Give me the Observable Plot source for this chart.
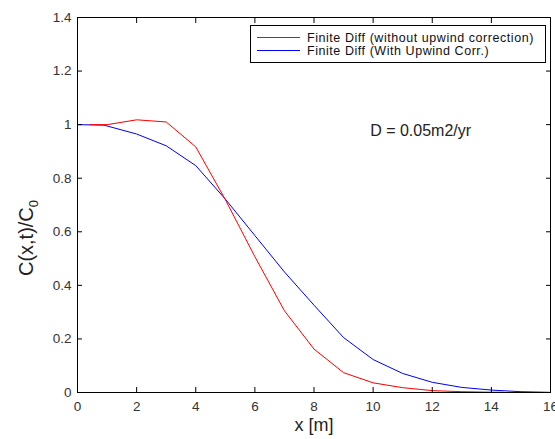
<!DOCTYPE html>
<html>
<head>
<meta charset="utf-8">
<script src="https://cdn.jsdelivr.net/npm/d3@7"></script>
<script src="https://cdn.jsdelivr.net/npm/@observablehq/plot@0.6"></script>
<style>
  body { margin: 0; background: #fff; }
  #wrap { position: relative; width: 555px; height: 439px; font-family: "Liberation Sans", Arial, sans-serif; }
  #legend { position: absolute; left: 250px; top: 25px; }
</style>
</head>
<body>
<div id="wrap"></div>
<script>
// Data
const redX  = [0.4, 1, 2, 3, 4, 5, 6, 7, 8, 9, 10, 11, 12, 13, 14, 14.4];
const redY  = [1.0, 1.0, 1.018, 1.010, 0.917, 0.72, 0.507, 0.305, 0.162, 0.074, 0.036, 0.018, 0.007, 0.003, 0.001, 0.001];
const blueX = [0, 0.9, 2, 3, 4, 5, 6, 7, 8, 9, 10, 11, 12, 13, 14, 15, 16];
const blueY = [1.0, 0.998, 0.965, 0.921, 0.847, 0.722, 0.586, 0.450, 0.326, 0.205, 0.123, 0.071, 0.038, 0.019, 0.009, 0.003, 0.0005];
const xTicks = [0, 2, 4, 6, 8, 10, 12, 14, 16];
const yTicks = [0, 0.2, 0.4, 0.6, 0.8, 1, 1.2, 1.4];
const seriesNames = ["Finite Diff (without upwind correction)", "Finite Diff (With Upwind Corr.)"];
const seriesColors = ["#ff0000", "#0000ff"];
const annotation = "D = 0.05m2/yr";
const xLabel = "x [m]";

const red = redX.map((x, i) => ({x, y: redY[i]}));
const blue = blueX.map((x, i) => ({x, y: blueY[i]}));

const fontFam = "Liberation Sans, Arial, sans-serif";
const chart = Plot.plot({
  width: 555,
  height: 439,
  marginLeft: 77,
  marginRight: 5,
  marginTop: 17,
  marginBottom: 47,
  style: {fontFamily: fontFam, background: "#fff", overflow: "visible"},
  x: {domain: [0, 16]},
  y: {domain: [0, 1.4]},
  marks: [
    Plot.line(blue, {x: "x", y: "y", stroke: seriesColors[1], strokeWidth: 1}),
    Plot.line(red, {x: "x", y: "y", stroke: seriesColors[0], strokeWidth: 1}),
    Plot.frame({stroke: "#000", strokeWidth: 1}),
    Plot.axisX({ticks: xTicks, tickSize: 0, tickPadding: 9, label: null, fontSize: 13.5, fill: "#333", tickFormat: d => String(d)}),
    Plot.axisY({ticks: yTicks, tickSize: 0, tickPadding: 6, label: null, fontSize: 13.5, fill: "#333", tickFormat: d => String(d)}),
    Plot.axisX({ticks: xTicks, anchor: "bottom", tickSize: -5, tickFormat: () => "", label: null}),
    Plot.axisX({ticks: xTicks, anchor: "top", tickSize: -5, tickFormat: () => "", label: null}),
    Plot.axisY({ticks: yTicks, anchor: "left", tickSize: -5, tickFormat: () => "", label: null}),
    Plot.axisY({ticks: yTicks, anchor: "right", tickSize: -5, tickFormat: () => "", label: null}),
    Plot.text([annotation], {x: 9.9, y: 0.975, text: d => d, textAnchor: "start", fontSize: 16, fill: "#222"}),
    Plot.text([xLabel], {frameAnchor: "bottom", dy: 38, text: d => d, fontSize: 18, fill: "#222"})
  ]
});

// y label with subscript
const svg = d3.select(chart);
const yl = svg.append("text")
  .attr("transform", "translate(33,238) rotate(-90)")
  .attr("text-anchor", "middle")
  .attr("font-family", fontFam)
  .attr("font-size", 20)
  .attr("fill", "#222");
yl.append("tspan").text("C(x,t)/C");
yl.append("tspan").attr("font-size", 13).attr("dy", 5).text("0");

const wrap = document.getElementById("wrap");
wrap.appendChild(chart);

// legend drawn as a small SVG box
const lw = 296, lh = 38;
const leg = d3.select(wrap).append("svg")
  .attr("id", "legend")
  .attr("width", lw).attr("height", lh);
leg.append("rect").attr("x", 0.5).attr("y", 0.5).attr("width", lw - 1).attr("height", lh - 1)
  .attr("fill", "#fff").attr("stroke", "#000");
seriesNames.forEach((name, i) => {
  const cy = 12.5 + i * 13;
  leg.append("line").attr("x1", 7).attr("x2", 50).attr("y1", cy).attr("y2", cy)
    .attr("stroke", seriesColors[i]).attr("stroke-width", 1);
  leg.append("text").attr("x", 57).attr("y", cy).attr("dy", "0.36em")
    .attr("font-family", fontFam).attr("font-size", 12.5).attr("letter-spacing", 0.55)
    .attr("fill", "#111").text(name);
});
</script>
</body>
</html>
